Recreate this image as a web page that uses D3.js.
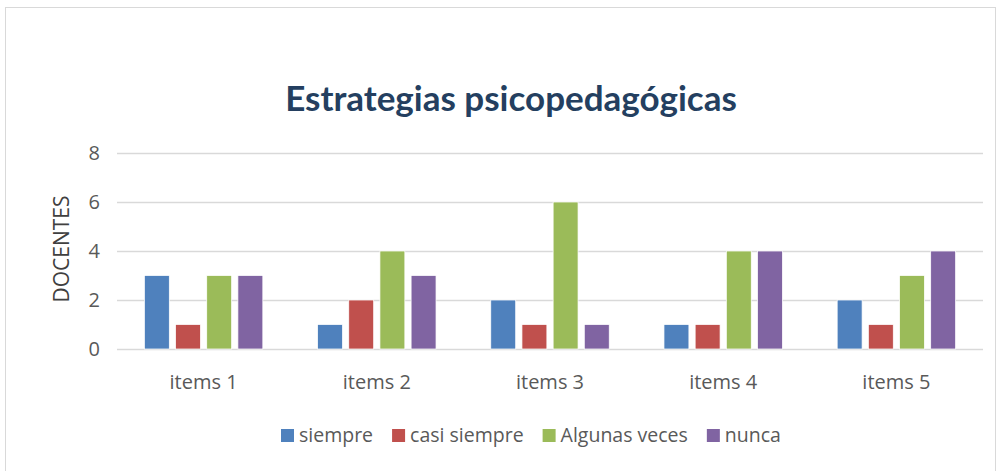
<!DOCTYPE html>
<html>
<head>
<meta charset="utf-8">
<script src="https://cdn.jsdelivr.net/npm/d3@7"></script>
<style>
  body { margin: 0; background: #fff; }
  text { font-family: "Open Sans", sans-serif; }
</style>
</head>
<body>
<div id="chart"></div>
<script>
const categories = ['items 1', 'items 2', 'items 3', 'items 4', 'items 5'];
const seriesNames = ['siempre', 'casi siempre', 'Algunas veces', 'nunca'];
const siempre = [3, 1, 2, 1, 2];
const casiSiempre = [1, 2, 1, 1, 1];
const algunasVeces = [3, 4, 6, 4, 3];
const nunca = [3, 3, 1, 4, 4];
const yTicks = [0, 2, 4, 6, 8];
const colors = ['#4F81BD', '#C0504D', '#9BBB59', '#8064A2'];

const seriesValues = [siempre, casiSiempre, algunasVeces, nunca];

const width = 1002, height = 471;
const margin = { left: 117, right: 19, top: 153, bottom: 122 };

const svg = d3.select('#chart').append('svg')
    .attr('width', width)
    .attr('height', height);

// outer chart frame
svg.append('rect')
    .attr('x', 5.5).attr('y', 7.5)
    .attr('width', 990).attr('height', 470)
    .attr('fill', '#fff')
    .attr('stroke', '#d9d9d9');

svg.append('text')
    .attr('x', 511).attr('y', 111)
    .attr('text-anchor', 'middle')
    .style('font-family', 'Lato, sans-serif')
    .style('font-size', '35px')
    .style('font-weight', 'bold')
    .style('fill', '#243F60')
    .text('Estrategias psicopedagógicas');

const x0 = d3.scaleBand()
    .domain(categories)
    .range([margin.left, width - margin.right])
    .paddingInner(0.28)
    .paddingOuter(0.14);

const x1 = d3.scaleBand()
    .domain(seriesNames)
    .range([0, x0.bandwidth()])
    .paddingInner(0.2)
    .paddingOuter(0.1);

const y = d3.scaleLinear()
    .domain([0, 8])
    .range([height - margin.bottom, margin.top]);

// gridlines
svg.append('g')
    .selectAll('line')
    .data(yTicks)
    .join('line')
    .attr('x1', margin.left).attr('x2', width - margin.right)
    .attr('y1', d => Math.round(y(d)) + 0.5)
    .attr('y2', d => Math.round(y(d)) + 0.5)
    .attr('stroke', '#d9d9d9')
    .attr('stroke-width', 1.5);

// y tick labels
svg.append('g')
    .selectAll('text')
    .data(yTicks)
    .join('text')
    .attr('x', 100)
    .attr('y', d => y(d))
    .attr('dy', '0.36em')
    .attr('text-anchor', 'end')
    .style('font-size', '20px')
    .style('fill', '#595959')
    .text(d => d);

svg.append('text')
    .attr('transform', 'translate(69,' + (y(4) - 2) + ') rotate(-90)')
    .attr('text-anchor', 'middle')
    .style('font-size', '21px')
    .style('fill', '#404040')
    .text('DOCENTES');

// bars
const groups = svg.append('g')
    .selectAll('g')
    .data(categories)
    .join('g')
    .attr('transform', d => 'translate(' + x0(d) + ',0)');

groups.selectAll('rect')
    .data((c, i) => seriesNames.map((s, k) => ({ s, k, v: seriesValues[k][i] })))
    .join('rect')
    .attr('x', d => x1(d.s))
    .attr('width', x1.bandwidth())
    .attr('y', d => y(d.v))
    .attr('height', d => y(0) - y(d.v))
    .attr('fill', d => colors[d.k])
    .attr('stroke', '#fff')
    .attr('stroke-width', 0.75);

// x labels
svg.append('g')
    .selectAll('text')
    .data(categories)
    .join('text')
    .attr('x', d => x0(d) + x0.bandwidth() / 2)
    .attr('y', 389)
    .attr('text-anchor', 'middle')
    .style('font-size', '20px')
    .style('fill', '#595959')
    .text(d => d);

// legend
const legend = svg.append('g');
const items = legend.selectAll('g')
    .data(seriesNames)
    .join('g');
items.append('rect')
    .attr('width', 13).attr('height', 13)
    .attr('y', 429)
    .attr('fill', (d, i) => colors[i]);
items.append('text')
    .attr('x', 18)
    .attr('y', 442)
    .style('font-size', '19.5px')
    .style('fill', '#595959')
    .text(d => d);

const gap = 19;
const widths = [];
items.each(function () {
    widths.push(18 + this.querySelector('text').getComputedTextLength());
});
let cx = 281;
items.attr('transform', (d, i) => {
    const t = 'translate(' + cx + ',0)';
    cx += widths[i] + gap;
    return t;
});
</script>
</body>
</html>
